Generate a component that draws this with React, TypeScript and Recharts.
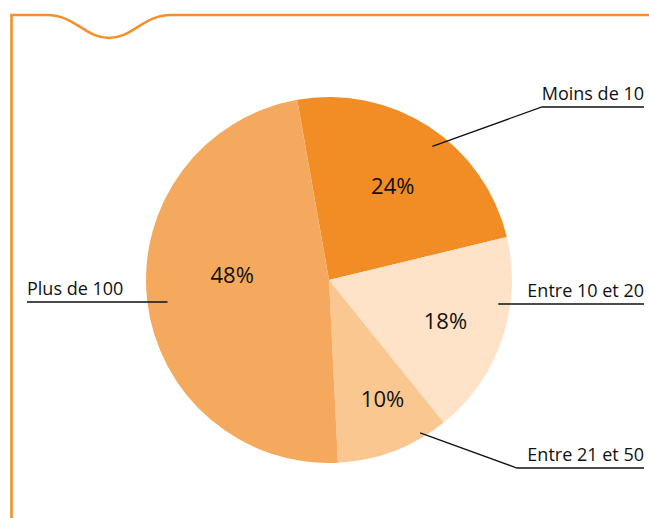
import { PieChart, Pie, Cell } from 'recharts'

// ─── Data ────────────────────────────────────────────────────────────────────

const CATEGORIES = ['Moins de 10', 'Entre 10 et 20', 'Entre 21 et 50', 'Plus de 100']
const SHARES = [24, 18, 10, 48]
const COLORS = ['#F28C25', '#FEE3C9', '#FBC791', '#F5A95E']

// ─── Layout (labels hand-placed like the original) ───────────────────────────

const W = 649
const H = 518
const RADIAN = Math.PI / 180
const FRAME = '#F39029'

// inner % label: distance from centre and angle nudge (deg, ccw), per slice
const PCT_RADIUS = [114, 123, 130, 97]
const PCT_SHIFT = [-0.8, 0, 3.5, -10]

// leader lines: horizontal y (relative to cy), elbow x (relative to cx) or null
const LEADERS = [
  { lineDy: -173, elbowDx: 213, startR: 169, shift: -4.5, side: 'right' },
  { lineDy: 24, elbowDx: null, startR: 171, shift: 0, side: 'right' },
  { lineDy: 188, elbowDx: 188, startR: 178, shift: 10, side: 'right' },
  { lineDy: 22, elbowDx: null, startR: 163, shift: 0, side: 'left' },
]

const data = CATEGORIES.map((name, i) => ({ name, value: SHARES[i] }))

function SliceLabel(props: any) {
  const { cx, cy, midAngle, index, name, value } = props
  const pr = PCT_RADIUS[index]
  const pa = (midAngle + PCT_SHIFT[index]) * RADIAN
  const px = cx + pr * Math.cos(-pa)
  const py = cy + pr * Math.sin(-pa)

  const l = LEADERS[index]
  const lineY = cy + l.lineDy
  let points: string
  if (l.elbowDx == null) {
    const dx = Math.sqrt(l.startR * l.startR - l.lineDy * l.lineDy)
    const sx = l.side === 'right' ? cx + dx : cx - dx
    const ex = l.side === 'right' ? 644 : 27
    points = `${sx},${lineY} ${ex},${lineY}`
  } else {
    const a = (midAngle + l.shift) * RADIAN
    const sx = cx + l.startR * Math.cos(-a)
    const sy = cy + l.startR * Math.sin(-a)
    points = `${sx},${sy} ${cx + l.elbowDx},${lineY} 644,${lineY}`
  }

  return (
    <g>
      <text x={px} y={py} textAnchor="middle" dominantBaseline="central" fontSize={22} fill="#111">
        {value}%
      </text>
      <polyline points={points} fill="none" stroke="#111" strokeWidth={1.3} />
      <text
        x={l.side === 'right' ? 644 : 27}
        y={lineY - 7}
        textAnchor={l.side === 'right' ? 'end' : 'start'}
        fontSize={18}
        fill="#111"
      >
        {name}
      </text>
    </g>
  )
}

export default function App() {
  return (
    <div style={{ position: 'relative', width: W, height: H, fontFamily: '"Open Sans", sans-serif', background: '#fff' }}>
      <style>{'body{margin:0}'}</style>
      <svg width={W} height={H} style={{ position: 'absolute', left: 0, top: 0 }}>
        <path
          d="M 11.5 518 V 15 H 47 C 75 15, 85 38, 109 38 C 133 38, 143 15, 171 15 H 649"
          fill="none"
          stroke={FRAME}
          strokeWidth={2.6}
        />
      </svg>
      <div style={{ position: 'absolute', left: 0, top: 0 }}>
        <PieChart width={W} height={H} margin={{ top: 0, right: 0, bottom: 0, left: 0 }}>
          <Pie
            data={data}
            dataKey="value"
            nameKey="name"
            cx={329}
            cy={280}
            outerRadius={183}
            startAngle={100}
            endAngle={-260}
            stroke="none"
            label={SliceLabel}
            labelLine={false}
            isAnimationActive={false}
          >
            {data.map((d, i) => (
              <Cell key={d.name} fill={COLORS[i]} />
            ))}
          </Pie>
        </PieChart>
      </div>
    </div>
  )
}
